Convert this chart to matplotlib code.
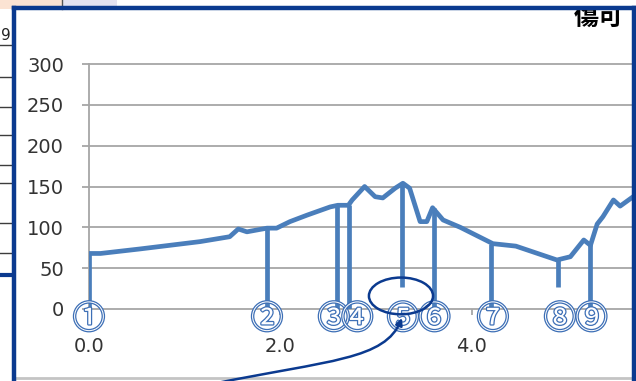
import matplotlib
matplotlib.use("Agg")
import matplotlib.pyplot as plt
import matplotlib.patheffects as pe
from matplotlib.patches import Rectangle, Ellipse, FancyArrowPatch
from matplotlib.path import Path
from matplotlib.lines import Line2D

# main series (distance vs value)
line_x = [0.00, 0.12, 0.53, 1.16, 1.47, 1.56, 1.65, 1.86, 1.96, 2.10,
          2.28, 2.52, 2.60, 2.71, 2.75, 2.88, 2.99, 3.07, 3.20, 3.28,
          3.35, 3.46, 3.53, 3.59, 3.70, 3.88, 4.22, 4.46, 4.89, 5.03,
          5.17, 5.24, 5.31, 5.37, 5.48, 5.55, 5.68]
line_y = [68, 68, 73.5, 82.5, 88.5, 98, 94.5, 99, 99, 107,
          115, 125, 127, 127, 133.5, 150, 137.5, 136, 148, 154,
          148, 107, 107, 124, 109, 100, 80, 77, 60, 64,
          84.5, 78, 104, 113, 133.5, 126, 137]

# marked points with drop lines
drop_x = [0.00, 1.86, 2.59, 2.72, 3.27, 3.60, 4.20, 4.90, 5.24]
drop_top = [68, 99, 126, 127, 154, 124, 80, 60, 82]
drop_bottom = [0, 0, 0, 0, 27, 0, 0, 27, 0]
drop_labels = ['①', '②', '③', '④', '⑤', '⑥', '⑦', '⑧', '⑨']

y_ticks = [0, 50, 100, 150, 200, 250, 300]
x_ticks = [0, 2, 4]
x_ticklabels = ['0.0', '2.0', '4.0']

W, H = 636, 381
BLUE = '#4a7ebb'
NAVY = '#0b3a8f'
GRID = '#a6a6a6'


def fx(x):
    return x / W


def fy(y):
    return 1 - y / H


fig = plt.figure(figsize=(W / 100, H / 100), dpi=100)
fig.patch.set_facecolor('white')

# spreadsheet bits behind the chart
fig.patches.append(Rectangle((fx(0), fy(9)), fx(62), 9 / H, transform=fig.transFigure,
                             facecolor='#fbe3d3', edgecolor='none', zorder=1))
fig.patches.append(Rectangle((fx(62), fy(8)), fx(55), 8 / H, transform=fig.transFigure,
                             facecolor='#e4e3f1', edgecolor='none', zorder=1))
fig.lines.append(Line2D([fx(62), fx(62)], [fy(0), fy(9)], transform=fig.transFigure,
                        color='#555555', lw=1, zorder=2))
for yy in [45, 77, 107, 135, 165, 183, 223, 253]:
    fig.lines.append(Line2D([fx(0), fx(12)], [fy(yy), fy(yy)], transform=fig.transFigure,
                            color='#3c3c3c', lw=1, zorder=2))
fig.lines.append(Line2D([fx(0), fx(12)], [fy(275), fy(275)], transform=fig.transFigure,
                        color=NAVY, lw=3, zorder=2))
fig.text(fx(1), fy(36), '9', fontsize=11, color='#222222', va='center', ha='left', zorder=2)

# bottom grey line of the sheet
fig.lines.append(Line2D([fx(16), fx(632)], [fy(378), fy(378)], transform=fig.transFigure,
                        color='#c4c4c4', lw=2, zorder=2))

# title text, top part hidden under the frame
fig.text(fx(574), fy(18), '傷可', fontsize=18, fontweight='bold', color='black',
         family=['Noto Sans CJK JP', 'DejaVu Sans'], ha='left', va='center', zorder=3)
fig.patches.append(Rectangle((fx(117), fy(9)), 1, 9 / H, transform=fig.transFigure,
                             facecolor='white', edgecolor='none', zorder=4))

# chart frame
for xs, ys in [([14, 14], [8, 381]), ([14, 634], [8, 8]), ([634, 634], [8, 381])]:
    fig.lines.append(Line2D([fx(v) for v in xs], [fy(v) for v in ys], transform=fig.transFigure,
                            color=NAVY, lw=3.2, zorder=10, solid_capstyle='projecting'))

ax = fig.add_axes([fx(89), fy(309), (632 - 89) / W, (309 - 64) / H])
ax.set_facecolor('none')
ax.set_xlim(0, 5.674)
ax.set_ylim(0, 300)
for s in ['top', 'right', 'bottom']:
    ax.spines[s].set_visible(False)
ax.spines['left'].set_color(GRID)
ax.spines['left'].set_linewidth(1.3)

for v in y_ticks:
    ax.axhline(v, color=GRID, lw=1.3, zorder=0.5, clip_on=False)

ax.set_yticks(y_ticks)
ax.set_xticks(x_ticks)
ax.set_xticklabels(x_ticklabels)
ax.tick_params(axis='y', length=5, width=1.3, color=GRID, pad=13,
               labelsize=14, labelcolor='#333333')
ax.tick_params(axis='x', length=4, width=1.3, color=GRID, pad=16,
               labelsize=14, labelcolor='#333333')

ax.plot(line_x, line_y, color=BLUE, lw=3.4, solid_joinstyle='round', zorder=3)
ax.vlines(drop_x, drop_bottom, drop_top, color=BLUE, lw=3.4, zorder=3)

# small pixel nudges so the crowded labels sit like the original
label_nudge = [0, 0, -3, 8, 1, 1, 2, 2, 1]
for x, lab, dx in zip(drop_x, drop_labels, label_nudge):
    ax.annotate(lab, (x, 0), xytext=(dx * 0.72, -7.5), textcoords='offset points',
                ha='center', va='center', fontsize=23, color='white',
                family=['Noto Sans CJK JP', 'DejaVu Sans'],
                path_effects=[pe.Stroke(linewidth=1.8, foreground='#3d6fb6'), pe.Normal()],
                annotation_clip=False, zorder=4)

# callout ellipse and curved arrow
ax.add_patch(Ellipse((3.26, 16), 0.67, 45, fill=False, edgecolor=NAVY, lw=1.8,
                     clip_on=False, zorder=5))
pts = [(212, 384), (330, 360), (385, 360), (402, 318)]
arrow_path = Path([(fx(a), fy(b)) for a, b in pts],
                  [Path.MOVETO, Path.CURVE4, Path.CURVE4, Path.CURVE4])
arr = FancyArrowPatch(path=arrow_path, arrowstyle='-|>', mutation_scale=10,
                      color=NAVY, lw=1.8, transform=fig.transFigure, zorder=6)
fig.patches.append(arr)

fig.savefig('out.png', dpi=100)
